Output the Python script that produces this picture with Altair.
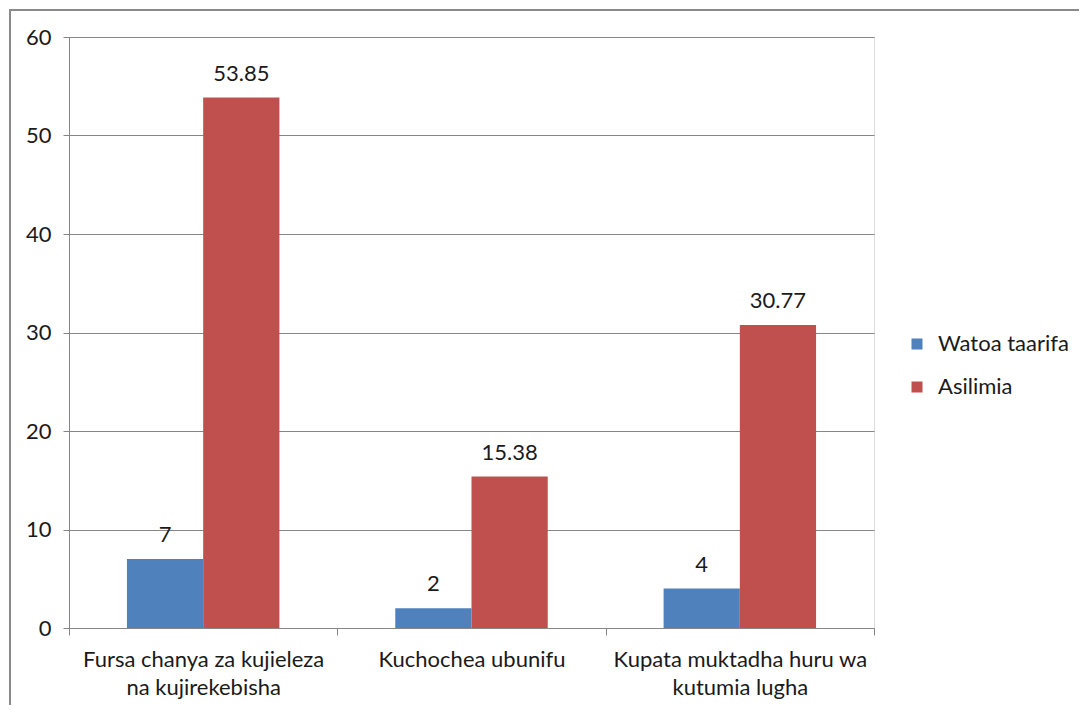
import altair as alt
import pandas as pd

categories = [
    "Fursa chanya za kujieleza\nna kujirekebisha",
    "Kuchochea ubunifu",
    "Kupata muktadha huru wa\nkutumia lugha",
]
series = ["Watoa taarifa", "Asilimia"]
watoa_taarifa = [7, 2, 4]
asilimia = [53.85, 15.38, 30.77]
watoa_labels = ["7", "2", "4"]
asilimia_labels = ["53.85", "15.38", "30.77"]
colors = ["#4f81bd", "#c0504d"]
y_ticks = [0, 10, 20, 30, 40, 50, 60]

rows = []
for i, c in enumerate(categories):
    rows.append({"category": c, "series": series[0], "value": watoa_taarifa[i], "label": watoa_labels[i]})
    rows.append({"category": c, "series": series[1], "value": asilimia[i], "label": asilimia_labels[i]})
df = pd.DataFrame(rows)

FONT = "Lato"
FS = 22
GRID = "#868686"
TXT = "#1a1a1a"

x_enc = alt.X(
    "category:N",
    sort=categories,
    scale=alt.Scale(paddingInner=0, paddingOuter=0),
    axis=alt.Axis(
        title=None,
        labelAngle=0,
        tickBand="extent",
        labelExpr="isString(datum.value) ? split(datum.value, '\\n') : ''",
        labelLimit=0,
        domainColor=GRID,
        tickColor=GRID,
        tickSize=7,
        labelPadding=14,
        labelFont=FONT,
        labelFontSize=FS,
        labelColor=TXT,
        labelLineHeight=28,
        grid=False,
    ),
)
xoff = alt.XOffset("series:N", sort=series, scale=alt.Scale(paddingInner=0, paddingOuter=0.76))
y_enc = alt.Y(
    "value:Q",
    scale=alt.Scale(domain=[0, 60], nice=False),
    axis=alt.Axis(
        title=None,
        values=y_ticks,
        grid=True,
        gridColor=GRID,
        domainColor=GRID,
        tickColor=GRID,
        tickSize=6,
        labelPadding=12,
        labelFont=FONT,
        labelFontSize=FS,
        labelColor=TXT,
    ),
)

base = alt.Chart(df)
bars = base.mark_bar().encode(
    x=x_enc,
    xOffset=xoff,
    y=y_enc,
    color=alt.Color(
        "series:N",
        sort=series,
        scale=alt.Scale(domain=series, range=colors),
        legend=alt.Legend(
            title=None,
            orient="none",
            legendX=837,
            legendY=296,
            symbolType="square",
            symbolSize=121,
            symbolStrokeWidth=0,
            labelFont=FONT,
            labelFontSize=FS,
            labelColor=TXT,
            labelOffset=10,
            rowPadding=21,
            padding=0,
        ),
    ),
)
texts = base.mark_text(baseline="alphabetic", dy=-17, font=FONT, fontSize=FS, color=TXT).encode(
    x=alt.X("category:N", sort=categories),
    xOffset=alt.XOffset("series:N", sort=series),
    y="value:Q",
    text="label:N",
)

one = pd.DataFrame({"a": [0]})
left_border = alt.Chart(one).mark_rule(color="#8a8a8a", strokeWidth=2).encode(
    x=alt.value(-59), y=alt.value(-27), y2=alt.value(720)
)
top_border = alt.Chart(one).mark_rule(color="#8a8a8a", strokeWidth=2).encode(
    x=alt.value(-60), x2=alt.value(1100), y=alt.value(-27)
)

chart = (
    alt.layer(bars, texts, left_border, top_border)
    .properties(
        width=805,
        height=591,
        padding={"left": 61, "top": 29, "right": 205, "bottom": 77},
        autosize=alt.AutoSizeParams(type="none"),
    )
    .configure_view(stroke=None)
    .configure(background="white")
)

chart.save("out.html", embed_options={"renderer": "svg", "actions": False})
